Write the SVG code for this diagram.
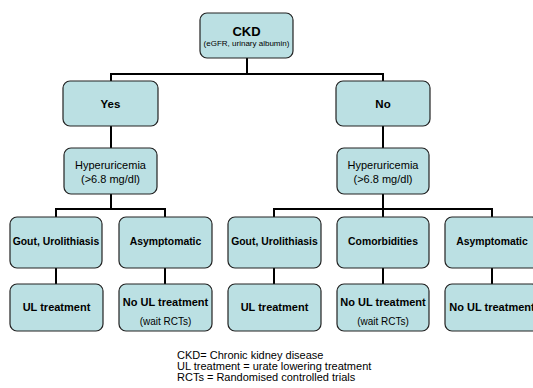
<svg xmlns="http://www.w3.org/2000/svg" width="533" height="388" viewBox="0 0 533 388">
<style>
.box{fill:#bbe0e3;stroke:#222;stroke-width:1.2}
.ln{stroke:#000;stroke-width:2;fill:none}
text{font-family:"Liberation Sans",Arial,sans-serif;text-anchor:middle;fill:#000}
.b{font-weight:bold;font-size:10.4px}
.b2{font-weight:bold;font-size:11px}
.h{font-size:11px}
.s{font-size:10px}
.f{font-size:11px;text-anchor:start}
</style>
<rect width="533" height="388" fill="#fff"/>
<g id="connectors">
<path class="ln" d="M247 58V74M111 81V74H383V81"/>
<path class="ln" d="M111 126V148M383 126V148"/>
<path class="ln" d="M111 194V209M56 217V209H165V217"/>
<path class="ln" d="M383 194V217M274 217V209H492V217"/>
<path class="ln" d="M56 268V284M165 268V284M274 268V284M383 268V284M492 268V284"/>
</g>
<g id="ckd"><rect class="box" x="200" y="13" width="93" height="45" rx="7"/><text x="246.5" y="36" style="font-weight:bold;font-size:13px">CKD</text><text x="246.5" y="46" style="font-size:8px">(eGFR, urinary albumin)</text></g>
<g id="yes"><rect class="box" x="63" y="81" width="95" height="45" rx="7"/><text x="110.5" y="107.5" style="font-weight:bold;font-size:11.5px">Yes</text></g>
<g id="no"><rect class="box" x="336" y="81" width="94" height="45" rx="7"/><text x="383" y="107.5" style="font-weight:bold;font-size:11.5px">No</text></g>
<g id="hyper-left"><rect class="box" x="64" y="148" width="93" height="46" rx="7"/><text class="h" x="110.5" y="169">Hyperuricemia</text><text class="h" x="110.5" y="183">(&gt;6.8 mg/dl)</text></g>
<g id="hyper-right"><rect class="box" x="337" y="148" width="92" height="46" rx="7"/><text class="h" x="383" y="169">Hyperuricemia</text><text class="h" x="383" y="183">(&gt;6.8 mg/dl)</text></g>
<g id="gout-left"><rect class="box" x="10" y="217" width="92" height="51" rx="7"/><text class="b" x="56" y="244.5">Gout, Urolithiasis</text></g>
<g id="asym-left"><rect class="box" x="119" y="217" width="93" height="51" rx="7"/><text class="b" x="165.5" y="244.5">Asymptomatic</text></g>
<g id="gout-right"><rect class="box" x="228" y="217" width="93" height="51" rx="7"/><text class="b" x="274.5" y="244.5">Gout, Urolithiasis</text></g>
<g id="comorb"><rect class="box" x="337" y="217" width="92" height="51" rx="7"/><text class="b" x="383" y="244.5">Comorbidities</text></g>
<g id="asym-right"><rect class="box" x="445" y="217" width="94" height="51" rx="7"/><text class="b" x="492" y="244.5">Asymptomatic</text></g>
<g id="ul-left"><rect class="box" x="10" y="284" width="93" height="47" rx="7"/><text class="b2" x="56.5" y="311">UL treatment</text></g>
<g id="noul-left"><rect class="box" x="119" y="284" width="93" height="47" rx="7"/><text class="b2" x="165.5" y="306">No UL treatment</text><text class="s" x="165.5" y="325">(wait RCTs)</text></g>
<g id="ul-right"><rect class="box" x="228" y="284" width="93" height="47" rx="7"/><text class="b2" x="274.5" y="311">UL treatment</text></g>
<g id="noul-mid"><rect class="box" x="337" y="284" width="92" height="47" rx="7"/><text class="b2" x="383" y="306">No UL treatment</text><text class="s" x="383" y="325">(wait RCTs)</text></g>
<g id="noul-right"><rect class="box" x="445" y="284" width="94" height="47" rx="7"/><text class="b2" x="492" y="311">No UL treatment</text></g>
<g id="legend">
<text class="f" x="177" y="359">CKD= Chronic kidney disease</text>
<text class="f" x="177" y="370">UL treatment = urate lowering treatment</text>
<text class="f" x="177" y="381">RCTs = Randomised controlled trials</text>
</g>
</svg>
